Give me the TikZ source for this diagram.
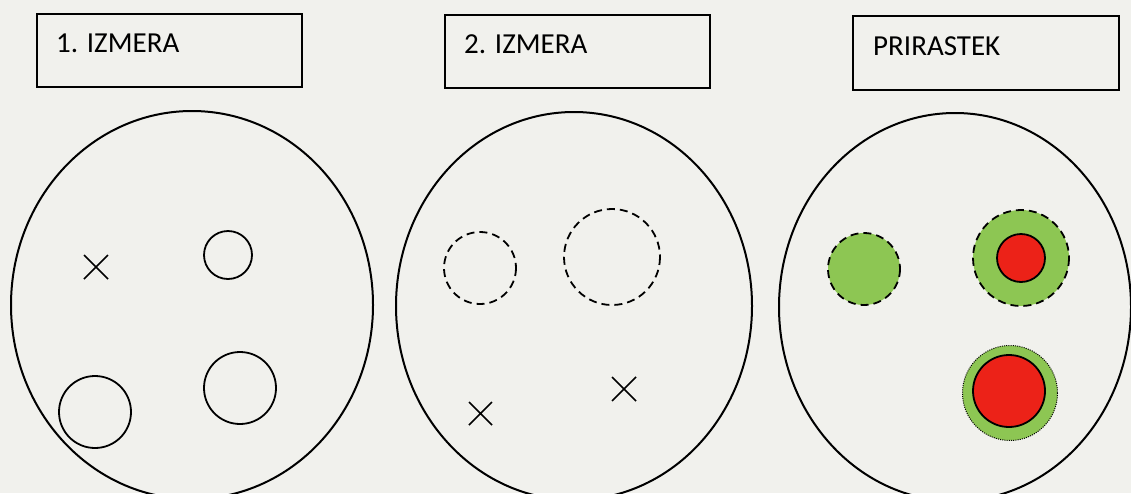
\documentclass[tikz,border=0pt]{standalone}
\usepackage{fontspec}
\setmainfont{Carlito}
\definecolor{bgc}{RGB}{241,241,237}
\definecolor{grn}{RGB}{141,198,83}
\definecolor{rd}{RGB}{236,34,24}
\begin{document}
\begin{tikzpicture}[x=1pt,y=-1pt,
  titlebox/.style={draw, line width=2pt, anchor=north west, inner sep=0pt},
  title/.style={anchor=base west, inner sep=0pt, font=\fontsize{29}{32}\selectfont},
  dish/.style={draw, line width=2pt},
  spot/.style={draw, line width=1.8pt},
  gone/.style={draw, line width=1.8pt, dash pattern=on 8pt off 5pt},
  growth/.style={fill=grn, draw, line width=1.8pt, dash pattern=on 8pt off 5pt},
  growthdot/.style={fill=grn, draw, line width=1pt, dash pattern=on 1pt off 1.2pt},
  core/.style={fill=rd, draw, line width=1.8pt},
  xmark/.style={line width=1.6pt}]
\fill[bgc] (0,0) rectangle (1131,493);
\useasboundingbox (0,0) rectangle (1131,493);
\begin{scope}
\clip (0,0) rectangle (1131,493);
% title boxes
\node[titlebox, minimum width=265pt, minimum height=73pt] (b1) at (36,13) {};
\node[title] (t1) at (56,52) {1. IZMERA};
\node[titlebox, minimum width=265pt, minimum height=73pt] (b2) at (444,14) {};
\node[title] (t2) at (464,53) {2. IZMERA};
\node[titlebox, minimum width=266pt, minimum height=74pt] (b3) at (852,15) {};
\node[title] (t3) at (873,55) {PRIRASTEK};
% dishes
\draw[dish] (192,305) ellipse [x radius=181, y radius=194];
\draw[dish] (574,306) ellipse [x radius=178, y radius=194];
\draw[dish] (955,307) ellipse [x radius=176, y radius=194];
% first measurement
\draw[xmark] (84,255) -- (108,279) (84,279) -- (108,255);
\draw[spot] (228,255) circle [radius=24];
\draw[spot] (95,412) circle [radius=36];
\draw[spot] (240,388) circle [radius=36];
% second measurement
\draw[gone] (480,268) circle [radius=36];
\draw[gone] (612,257) circle [radius=48];
\draw[xmark] (469,402) -- (492,425) (469,425) -- (492,402);
\draw[xmark] (612,377) -- (636,401) (612,401) -- (636,377);
% growth
\draw[growth] (864,269) circle [radius=36];
\draw[growth] (1021,258) circle [radius=48];
\draw[core] (1021,258) circle [radius=24];
\draw[growthdot] (1010,393) circle [radius=47.5];
\draw[core] (1009,391) circle [radius=36];
\end{scope}
\end{tikzpicture}
\end{document}
